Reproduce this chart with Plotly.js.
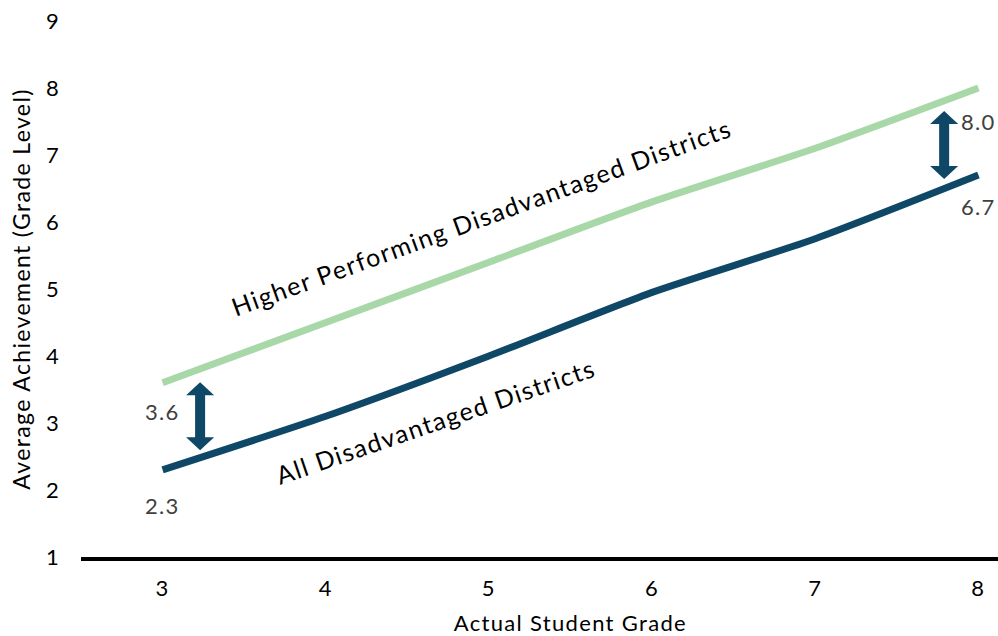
<!DOCTYPE html>
<html>
<head>
<meta charset="utf-8">
<script src="https://cdn.plot.ly/plotly-3.0.1.min.js"></script>
<style>
html,body{margin:0;padding:0;background:#fff;}
#chart{width:998px;height:636px;}
#chart text{letter-spacing:0.06em;}
</style>
</head>
<body>
<div id="chart"></div>
<script>
var grades = [3, 4, 5, 6, 7, 8];
var higherPerforming = [3.6, 4.5, 5.4, 6.3, 7.1, 8.0];
var allDisadvantaged = [2.3, 3.1, 4.0, 4.95, 5.75, 6.7];
var yTicks = [1, 2, 3, 4, 5, 6, 7, 8, 9];
var seriesNames = ["Higher Performing Disadvantaged Districts", "All Disadvantaged Districts"];
var xTitle = "Actual Student Grade";
var yTitle = "Average Achievement (Grade Level)";

var FONT = "Lato, 'Open Sans', sans-serif";
var darkBlue = "#0f4766";
var green = "#a8d8a8";
var valueColor = "#404040";

var traces = [
  {x: grades, y: higherPerforming, mode: "lines", line: {color: green, width: 7, shape: "spline", smoothing: 0.6}, hoverinfo: "skip", name: seriesNames[0]},
  {x: grades, y: allDisadvantaged, mode: "lines", line: {color: darkBlue, width: 7, shape: "spline", smoothing: 0.6}, hoverinfo: "skip", name: seriesNames[1]}
];

function arrowShape(xc, yc) {
  return {
    type: "path", xref: "x", yref: "y", xsizemode: "pixel", ysizemode: "pixel",
    xanchor: xc, yanchor: yc,
    path: "M 0,34 L 14,21 L 5,21 L 5,-21 L 14,-21 L 0,-34 L -14,-21 L -5,-21 L -5,21 L -14,21 Z",
    fillcolor: darkBlue, line: {width: 0}
  };
}

var first = 0, last = grades.length - 1;
var valFont = {family: FONT, size: 22, color: valueColor};
var annotations = [
  {x: grades[first], y: higherPerforming[first], text: higherPerforming[first].toFixed(1), showarrow: false, xanchor: "center", yshift: -29, font: valFont},
  {x: grades[first], y: allDisadvantaged[first], text: allDisadvantaged[first].toFixed(1), showarrow: false, xanchor: "center", yshift: -36, font: valFont},
  {x: grades[last], y: higherPerforming[last], text: higherPerforming[last].toFixed(1), showarrow: false, xanchor: "center", yshift: -33, font: valFont},
  {x: grades[last], y: allDisadvantaged[last], text: allDisadvantaged[last].toFixed(1), showarrow: false, xanchor: "center", yshift: -31, font: valFont},
  {x: 4.95, y: 6.08, text: seriesNames[0], showarrow: false, textangle: -20, font: {family: FONT, size: 25, color: "#000"}},
  {x: 4.67, y: 3.03, text: seriesNames[1], showarrow: false, textangle: -19, font: {family: FONT, size: 25, color: "#000"}},
  {x: 5.5, xref: "x", y: 0, yref: "paper", yanchor: "top", yshift: -50, text: xTitle, showarrow: false, font: {family: FONT, size: 22, color: "#000"}},
  {x: -0.0654, xref: "paper", xanchor: "center", y: 0.5, yref: "paper", yanchor: "middle", text: yTitle, showarrow: false, textangle: -90, font: {family: FONT, size: 23, color: "#000"}}
];

var layout = {
  width: 998, height: 636,
  margin: {l: 81, r: 0, t: 21, b: 79},
  paper_bgcolor: "#fff", plot_bgcolor: "#fff",
  showlegend: false,
  font: {family: FONT, size: 22, color: "#000"},
  xaxis: {
    range: [2.5, 8.12], tickvals: grades, ticktext: grades.map(String),
    showgrid: false, zeroline: false, showline: true, linecolor: "#000", linewidth: 4,
    ticks: "", ticklabelstandoff: 9, tickfont: {family: FONT, size: 22, color: "#000"}, fixedrange: true
  },
  yaxis: {
    range: [1, 9], tickvals: yTicks, ticktext: yTicks.map(String),
    showgrid: false, zeroline: false, showline: false,
    ticks: "", ticklabelstandoff: 20, tickfont: {family: FONT, size: 22, color: "#000"}, fixedrange: true
  },
  shapes: [arrowShape(3.23, 3.1), arrowShape(7.79, 7.15)],
  annotations: annotations
};

Plotly.newPlot("chart", traces, layout, {staticPlot: true, displayModeBar: false});
</script>
</body>
</html>
